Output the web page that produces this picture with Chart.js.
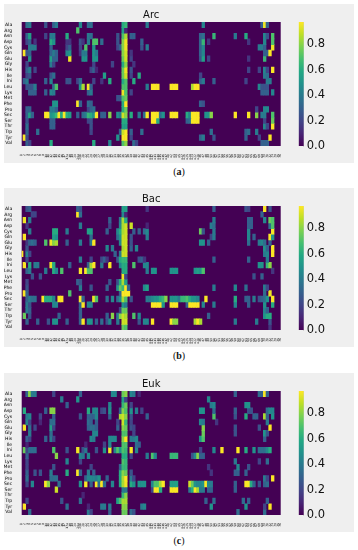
<!DOCTYPE html>
<html><head><meta charset="utf-8">
<script src="https://cdn.jsdelivr.net/npm/chart.js@4"></script>
<style>
html,body{margin:0;padding:0;background:#fff;width:358px;height:550px;overflow:hidden}
.panel{position:absolute;left:4px;width:350px;height:159px;background:#efefef}
.panel canvas{position:absolute}
.cap{position:absolute;left:0;width:358px;text-align:center;font:10px "Liberation Serif",serif;line-height:12px;color:#111}
.cap b{font-weight:bold}
</style></head><body>
<div class="panel" id="pa" style="top:4px"></div>
<div class="panel" id="pb" style="top:188px"></div>
<div class="panel" id="pc" style="top:372.5px"></div>
<div class="cap" style="top:166px">(<b>a</b>)</div>
<div class="cap" style="top:350px">(<b>b</b>)</div>
<div class="cap" style="top:535px">(<b>c</b>)</div>
<script>
const rowNames=["Ala","Arg","Asn","Asp","Cys","Gln","Glu","Gly","His","Ile","Ini","Leu","Lys","Met","Phe","Pro","Sec","Ser","Thr","Trp","Tyr","Val"];
const posLabels=["1","2","3","4","5","6","7","8","9","10","11","12","13","14","15","16","17","17a","18","19","20","20a","20b","21","22","23","24","25","26","27","28","29","30","31","32","33","34","35","36","37","38","39","40","41","42","43","44","45","e11","e12","e13","e14","e15","e16","e17","e1","e2","e3","e4","e5","e27","e26","e25","e24","e23","e22","e21","46","47","48","49","50","51","52","53","54","55","56","57","58","59","60","61","62","63","64","65","66","67","68","69","70","71","72","73","74","75","76"];
const cbTicks=[0,0.2,0.4,0.6,0.8];
// each row: pairs of [column, value]
const arcCells=[
[[2,.35],[3,.4],[9,.25],[12,.3],[13,.4],[22,.45],[25,.35],[26,.35],[38,.6],[39,.65],[47,.4],[68,.45],[90,.3],[91,.95],[92,.3]],
[[21,.7],[38,.55],[39,.1]],
[[2,.3],[3,.55],[9,.2],[11,.4],[12,.4],[17,.6],[25,.4],[26,.35],[36,.25],[38,.7],[39,.85],[41,.3],[42,.3],[67,.3],[68,.35],[72,.65],[80,.4],[84,.6],[91,.45],[92,.25],[94,.7]],
[[2,.2],[3,.3],[5,.15],[11,.6],[12,.5],[17,.15],[18,.15],[22,.25],[23,.15],[25,.4],[27,.7],[28,.7],[30,.35],[36,.25],[38,.8],[39,.95],[45,.3],[67,.3],[68,.65],[70,.15],[85,.15],[91,.45],[94,.7]],
[[3,.4],[4,.4],[5,.4],[11,.3],[17,.2],[18,.3],[22,.2],[24,.7],[27,.5],[36,.2],[37,.3],[38,.8],[39,.95],[45,.25],[47,.4],[67,.3],[68,.45],[89,.4],[90,.4],[91,.3],[94,.95]],
[[1,.97],[2,.25],[3,.3],[11,.3],[12,.4],[13,.3],[17,.45],[18,.5],[22,.15],[23,.4],[24,.4],[27,.5],[28,.4],[38,.8],[39,.9],[41,.15],[67,.3],[68,.45],[91,.3],[92,.3],[93,.97]],
[[3,.5],[11,.55],[12,.3],[13,.3],[18,.95],[23,.5],[24,.5],[27,.5],[28,.5],[38,.75],[39,.9],[41,.2],[67,.25],[68,.55],[70,.2],[85,.15],[91,.65]],
[[2,.2],[11,.4],[12,.2],[27,.2],[34,.2],[38,.6],[39,.8],[42,.15]],
[[2,.3],[3,.4],[5,.2],[26,.2],[27,.3],[28,.1],[38,.75],[39,.95],[41,.25],[85,.2],[89,.2],[91,.45],[92,.2],[94,.97]],
[[2,.2],[3,.25],[11,.25],[12,.35],[31,.55],[38,.75],[39,.9],[41,.2],[44,.6],[67,.2],[91,.4],[92,.35]],
[[1,.3],[2,.4],[9,.3],[11,.45],[17,.25],[18,.25],[21,.2],[22,.35],[27,.2],[30,.15],[33,.6],[38,.6],[39,.7],[42,.6],[67,.3],[68,.4],[72,.3],[84,.2],[92,.4],[93,.4]],
[[2,.25],[3,.25],[4,.25],[5,.4],[12,.35],[13,.7],[22,.5],[23,.85],[25,.97],[26,.3],[38,.7],[39,.7],[47,.4],[49,.97],[50,.97],[51,.97],[56,.97],[57,.97],[58,.97],[64,.85],[65,.97],[66,.97],[89,.45],[90,.25],[91,.25],[92,.25]],
[[3,.3],[4,.3],[5,.3],[9,.3],[11,.45],[12,.4],[25,.3],[26,.4],[38,.95],[39,.7],[41,.2],[90,.3],[91,.3],[92,.3],[94,.45]],
[[36,.25],[37,.25],[38,.7],[39,.75]],
[[12,.5],[13,.5],[21,.97],[22,.3],[25,.35],[26,.3],[38,.6],[39,.97],[67,.3],[68,.25]],
[[2,.3],[3,.3],[11,.4],[12,.4],[13,.3],[25,.2],[26,.3],[27,.35],[38,.6],[39,.75],[88,.2],[91,.45],[92,.45]],
[[2,.3],[3,.55],[4,.3],[9,.97],[10,.97],[11,.5],[12,.55],[13,.65],[14,.97],[15,.6],[16,.97],[17,.6],[18,.55],[21,.3],[23,.35],[24,.4],[25,.65],[26,.6],[27,.5],[28,.97],[30,.3],[31,.3],[33,.8],[36,.5],[37,.4],[38,.9],[39,.8],[41,.6],[44,.4],[46,.35],[47,.97],[49,.97],[50,.97],[51,.97],[52,.35],[53,.5],[56,.97],[57,.97],[58,.97],[62,.6],[63,.45],[64,.97],[65,.97],[66,.97],[69,.5],[70,.5],[71,.8],[80,.97],[85,.97],[88,.8],[90,.4],[91,.4],[94,.7]],
[[2,.25],[11,.3],[12,.3],[25,.2],[26,.25],[38,.6],[39,.6],[49,.97],[50,.97],[51,.6],[62,.3],[63,.35],[64,.97],[65,.97],[66,.97],[91,.2],[94,.75]],
[[2,.35],[11,.3],[12,.3],[26,.25],[38,.55],[39,.55],[91,.45],[92,.2],[94,.97]],
[[2,.3],[6,.35],[26,.2],[37,.3],[38,.9],[39,.97],[41,.3],[45,.35],[71,.35],[84,.3],[85,.35],[88,.4]],
[[1,.97],[2,.2],[36,.5],[38,.97],[39,.97],[41,.2],[67,.3],[68,.4],[72,.25],[84,.3],[89,.2],[93,.97]],
[[2,.3],[3,.2],[11,.6],[27,.6],[33,.45],[38,.7],[39,.8],[42,.35],[43,.2],[90,.3],[91,.3],[92,.3]]
];
const bacCells=[
[[2,.25],[3,.3],[21,.3],[22,.25],[38,.55],[39,.55],[47,.15],[72,.3],[84,.25],[85,.2],[91,.97],[93,.25]],
[[4,.2],[5,.2],[21,.97],[22,.35],[38,.45],[39,.1],[90,.3]],
[[1,.95],[3,.4],[33,.3],[37,.4],[38,.85],[39,.6],[72,.4],[85,.3],[86,.3],[91,.45],[93,.75],[94,.7]],
[[2,.15],[22,.4],[33,.2],[37,.45],[38,.85],[39,.9],[41,.9],[47,.1],[71,.4],[72,.35],[85,.3],[86,.3],[93,.35],[94,.7]],
[[3,.4],[12,.6],[13,.6],[17,.4],[25,.55],[26,.55],[32,.3],[36,.45],[37,.6],[38,.85],[39,.9],[42,.3],[44,.3],[46,.35],[47,.45],[67,.75],[68,.25],[72,.4],[85,.45],[94,.97]],
[[1,.97],[12,.55],[13,.5],[26,.35],[36,.35],[37,.5],[38,.9],[39,.9],[41,.25],[47,.4],[71,.2],[72,.4],[85,.45],[87,.3],[93,.97],[94,.5]],
[[2,.15],[3,.3],[4,.35],[5,.3],[9,.7],[11,.95],[12,.8],[13,.85],[17,.3],[22,.4],[26,.4],[27,.97],[37,.45],[38,.9],[39,.9],[41,.25],[67,.5],[68,.5],[70,.3],[85,.35],[89,.4],[90,.45],[91,.35],[93,.3]],
[[2,.25],[32,.45],[34,.4],[38,.85],[39,.9],[41,.3],[43,.45],[91,.5],[92,.3],[94,.97]],
[[0,.97],[2,.45],[3,.2],[35,.3],[37,.4],[38,.9],[39,.9],[91,.4],[92,.45],[94,.97]],
[[2,.2],[22,.4],[26,.2],[30,.2],[31,.3],[32,.15],[36,.25],[37,.6],[38,.65],[39,.65],[44,.25],[45,.3],[46,.15],[72,.3],[85,.3],[92,.4]],
[[1,.97],[3,.6],[5,.4],[6,.4],[11,.95],[12,.6],[18,.3],[25,.3],[26,.85],[27,.97],[30,.4],[33,.97],[37,.45],[38,.6],[39,.6],[42,.7],[46,.45],[47,.45],[89,.5],[90,.5],[92,.65],[93,.8]],
[[2,.3],[3,.4],[9,.4],[12,.6],[13,.45],[15,.7],[22,.97],[24,.97],[25,.7],[26,.7],[38,.6],[39,.6],[47,.4],[49,.5],[50,.5],[56,.5],[57,.5],[58,.5],[65,.5],[66,.55],[67,.5],[68,.7],[94,.15]],
[[4,.25],[7,.25],[38,.95],[39,.2],[87,.25],[90,.3]],
[[2,.2],[21,.3],[22,.25],[33,.25],[36,.25],[37,.6],[38,.85],[39,.55]],
[[2,.25],[22,.4],[26,.25],[32,.3],[36,.5],[37,.75],[38,.65],[39,.97],[40,.3],[46,.45],[47,.55],[72,.4],[80,.45],[84,.35],[91,.4],[92,.2]],
[[1,.97],[2,.3],[18,.7],[37,.3],[38,.97],[39,.97],[40,.97],[91,.35],[93,.95]],
[[2,.3],[3,.4],[4,.35],[5,.35],[8,.97],[9,.6],[10,.6],[11,.6],[12,.45],[14,.97],[15,.97],[22,.97],[23,.3],[27,.95],[28,.7],[32,.35],[34,.45],[36,.35],[37,.5],[38,.85],[39,.7],[41,.25],[47,.4],[48,.4],[49,.45],[50,.5],[51,.5],[52,.6],[53,.65],[54,.8],[56,.5],[57,.5],[58,.5],[59,.4],[60,.65],[61,.65],[62,.7],[63,.6],[64,.5],[65,.5],[66,.45],[69,.97],[80,.6],[84,.3],[85,.3],[87,.4],[89,.25],[90,.3],[91,.35],[92,.5],[94,.97]],
[[2,.4],[3,.25],[12,.45],[13,.45],[22,.3],[23,.97],[25,.45],[26,.45],[38,.5],[39,.4],[49,.97],[50,.97],[51,.97],[52,.97],[53,.5],[56,.97],[57,.97],[58,.97],[62,.3],[63,.97],[64,.97],[65,.97],[66,.97],[68,.45],[72,.4],[80,.45],[85,.3],[91,.5],[94,.6]],
[[2,.4],[3,.3],[22,.3],[37,.2],[38,.75],[39,.75],[91,.45],[92,.3]],
[[1,.75],[3,.25],[14,.3],[22,.3],[32,.3],[34,.8],[36,.4],[37,.8],[38,.9],[39,.85],[42,.7],[44,.45],[70,.3],[91,.5],[92,.6],[93,.6]],
[[2,.3],[6,.3],[10,.25],[12,.5],[13,.5],[17,.3],[22,.3],[23,.97],[25,.5],[26,.5],[28,.3],[30,.35],[32,.25],[33,.45],[36,.4],[38,.9],[39,.9],[44,.25],[46,.45],[47,.45],[49,.97],[56,.97],[57,.8],[58,.8],[65,.85],[66,.97],[67,.85],[80,.4],[88,.4],[93,.25]],
[[38,.75],[39,.7],[93,.15]]
];
const eukCells=[
[[2,.3],[3,.8],[4,.4],[5,.4],[12,.2],[22,.3],[34,.45],[35,.45],[38,.75],[39,.8],[41,.45],[42,.4],[44,.1],[80,.3],[89,.35],[90,.3],[91,.97],[92,.3]],
[[15,.4],[21,.5],[38,.55],[39,.2],[70,.45]],
[[17,.3],[33,.45],[38,.65],[39,.75],[41,.2],[71,.4],[72,.45],[84,.5],[85,.5]],
[[1,.6],[9,.3],[11,.8],[12,.8],[25,.6],[27,.45],[28,.45],[30,.2],[31,.25],[33,.5],[37,.3],[38,.8],[39,.7],[41,.5],[43,.4],[45,.2],[67,.5],[68,.5],[72,.35],[80,.3],[85,.25],[86,.25],[92,.35],[93,.45],[94,.45]],
[[2,.4],[3,.45],[7,.2],[12,.3],[22,.25],[25,.3],[26,.3],[27,.3],[28,.45],[33,.3],[37,.85],[38,.9],[39,.8],[41,.25],[47,.3],[72,.7],[80,.25],[84,.6],[87,.3],[88,.3],[91,.85],[92,.3],[94,.5]],
[[2,.45],[3,.2],[7,.1],[11,.35],[12,.35],[25,.35],[26,.3],[28,.3],[36,.2],[38,.9],[39,.65],[41,.2],[67,.45],[68,.4],[73,.15],[92,.4]],
[[1,.97],[3,.35],[5,.2],[11,.55],[12,.2],[25,.3],[26,.35],[27,.35],[28,.3],[36,.3],[38,.8],[39,.75],[41,.25],[42,.2],[68,.8],[80,.25],[89,.25],[93,.97]],
[[3,.4],[11,.35],[27,.45],[28,.45],[38,.7],[39,.7],[42,.2],[68,.75],[80,.25],[91,.5],[92,.25]],
[[2,.3],[3,.2],[9,.3],[11,.4],[12,.2],[26,.45],[27,.4],[33,.45],[34,.45],[35,.45],[38,.8],[39,.97],[41,.4],[42,.4],[43,.45],[67,.5],[68,.7],[91,.3]],
[[2,.1],[24,.1],[31,.2],[33,.45],[38,.7],[39,.7],[43,.35],[44,.3]],
[[1,.75],[2,.2],[3,.35],[4,.35],[5,.35],[12,.7],[17,.25],[21,.95],[23,.25],[24,.4],[28,.25],[31,.5],[33,.97],[35,.45],[36,.7],[37,.5],[38,.7],[39,.65],[41,.97],[43,.45],[67,.2],[72,.45],[75,.97],[81,.97],[84,.6],[87,.5],[89,.35],[90,.35],[91,.35],[92,.45],[93,.6]],
[[2,.3],[13,.8],[22,.45],[23,.4],[25,.45],[38,.6],[39,.6],[41,.2],[47,.4],[49,.7],[50,.45],[56,.65],[57,.65],[58,.65],[64,.25],[65,.45],[66,.8],[67,.3],[68,.3]],
[[2,.2],[17,.45],[22,.2],[38,.7],[39,.65],[80,.4],[89,.2],[92,.35]],
[[2,.2],[12,.25],[26,.2],[37,.3],[38,.65],[39,.65],[70,.15],[81,.45],[85,.25]],
[[2,.3],[5,.25],[7,.25],[11,.4],[17,.6],[21,.97],[22,.3],[25,.4],[27,.3],[37,.6],[38,.8],[39,.75],[41,.25],[71,.15],[80,.3],[81,.3],[84,.3]],
[[2,.35],[11,.35],[12,.35],[13,.35],[24,.3],[25,.45],[26,.45],[27,.45],[28,.4],[29,.5],[32,.3],[37,.6],[38,.85],[39,.97],[41,.4],[42,.2],[91,.4],[92,.2],[94,.97]],
[[2,.2],[4,.45],[9,.97],[10,.8],[14,.35],[22,.5],[24,.97],[26,.3],[28,.97],[29,.35],[30,.97],[31,.35],[34,.45],[37,.6],[38,.85],[39,.95],[41,.6],[42,.5],[44,.5],[45,.5],[46,.5],[49,.45],[50,.7],[51,.7],[52,.85],[53,.97],[56,.55],[57,.55],[58,.55],[63,.9],[64,.75],[65,.5],[66,.45],[67,.45],[68,.5],[69,.97],[70,.45],[71,.4],[80,.3],[84,.97],[85,.97],[86,.6],[87,.3],[89,.25],[91,.3],[92,.35]],
[[13,.9],[38,.4],[39,.4],[49,.2],[50,.97],[51,.97],[52,.6],[56,.97],[57,.97],[58,.97],[63,.4],[64,.6],[65,.97],[66,.85],[67,.4],[68,.4],[70,.3],[71,.3],[80,.3]],
[[23,.1],[38,.65],[39,.8]],
[[2,.2],[15,.25],[22,.35],[36,.55],[37,.7],[38,.85],[39,.85],[69,.3],[72,.35],[83,.35],[85,.3],[92,.3]],
[[1,.97],[17,.35],[25,.1],[30,.4],[31,.4],[33,.4],[38,.8],[39,.8],[45,.4],[46,.45],[71,.5],[84,.5],[91,.2],[93,.97]],
[[3,.35],[25,.4],[26,.2],[33,.3],[38,.75],[39,.75],[41,.35],[42,.25],[81,.35],[91,.35]]
];
const viridisStops=["#440154","#482475","#414487","#355f8d","#2a788e","#21918c","#22a884","#44bf70","#7ad151","#bddf26","#fde725"];
const VMAX=0.975;
function hex(c){return [1,3,5].map(i=>parseInt(c.substr(i,2),16));}
function viridis(v){
  const t=Math.min(1,Math.max(0,v/VMAX))*10,i=Math.min(9,Math.floor(t)),f=t-i;
  const a=hex(viridisStops[i]),b=hex(viridisStops[i+1]);
  return `rgb(${a.map((x,j)=>Math.round(x+(b[j]-x)*f)).join(",")})`;
}
const plotBg={id:"plotBg",beforeDatasetsDraw(c){const a=c.chartArea,g=c.ctx;g.save();g.fillStyle="#440154";g.fillRect(a.left,a.top,a.width,a.height);g.restore();}};
function heat(host,title,cells){
  const cv=document.createElement("canvas");cv.width=350;cv.height=159;
  cv.style.cssText="left:0;top:0;width:350px;height:159px";host.appendChild(cv);
  const datasets=cells.map((row,r)=>{
    const data=posLabels.map(()=>null),bg=posLabels.map(()=>"#440154");
    row.forEach(([k,v])=>{data[k]=[r,r+1];bg[k]=viridis(v);});
    return {data,backgroundColor:bg,borderWidth:0,grouped:false,barPercentage:1,categoryPercentage:1};
  });
  new Chart(cv,{type:"bar",data:{labels:posLabels,datasets},plugins:[plotBg],options:{
    responsive:false,animation:false,events:[],
    layout:{padding:{left:0,right:73.3,top:0,bottom:0}},
    plugins:{legend:{display:false},tooltip:{enabled:false},
      title:{display:true,text:title,fullSize:false,color:"#111",font:{family:"DejaVu Sans",size:10,weight:"normal",lineHeight:1.2},padding:{top:5,bottom:1}}},
    scales:{
      x:{type:"category",offset:false,grid:{display:false},border:{display:false},
        afterFit(s){s.height=17;},
        ticks:{autoSkip:false,minRotation:90,maxRotation:90,padding:0,color:"#000",font:{family:"DejaVu Sans",size:3}}},
      y:{type:"linear",reverse:true,min:0,max:rowNames.length,grid:{display:false},border:{display:false},
        afterFit(s){s.width=17.7;},
        afterBuildTicks(s){s.ticks=rowNames.map((n,i)=>({value:i+.5}));},
        ticks:{autoSkip:false,padding:1.5,color:"#000",font:{family:"DejaVu Sans",size:4.6},
          callback(v){return rowNames[Math.floor(v)];}}}
    }}});
  const cb=document.createElement("canvas");cb.width=56;cb.height=159;
  cb.style.cssText="left:294px;top:0;width:56px;height:159px";host.appendChild(cb);
  new Chart(cb,{type:"bar",data:{labels:["cb"],datasets:[{data:[[0,VMAX]],barPercentage:1,categoryPercentage:1,borderWidth:0,
    backgroundColor(ctx){const a=ctx.chart.chartArea;if(!a)return "#440154";
      const g=ctx.chart.ctx.createLinearGradient(0,a.bottom,0,a.top);
      viridisStops.forEach((c,i)=>g.addColorStop(i/10,c));return g;}}]},
    options:{responsive:false,animation:false,events:[],
    layout:{padding:{left:0.7,right:0,top:18,bottom:17}},
    plugins:{legend:{display:false},tooltip:{enabled:false}},
    scales:{x:{display:false,offset:true},
      y:{position:"right",min:0,max:VMAX,grid:{display:false,drawTicks:false},border:{color:"#cfcfcf"},
        afterFit(s){s.width=50.3;},
        afterBuildTicks(s){s.ticks=cbTicks.map(v=>({value:v}));},
        ticks:{padding:3,color:"#111",font:{family:"DejaVu Sans",size:11.5},callback(v){return v.toFixed(1);}}}}}});
}
heat(document.getElementById("pa"),"Arc",arcCells);
heat(document.getElementById("pb"),"Bac",bacCells);
heat(document.getElementById("pc"),"Euk",eukCells);
</script>
</body></html>
